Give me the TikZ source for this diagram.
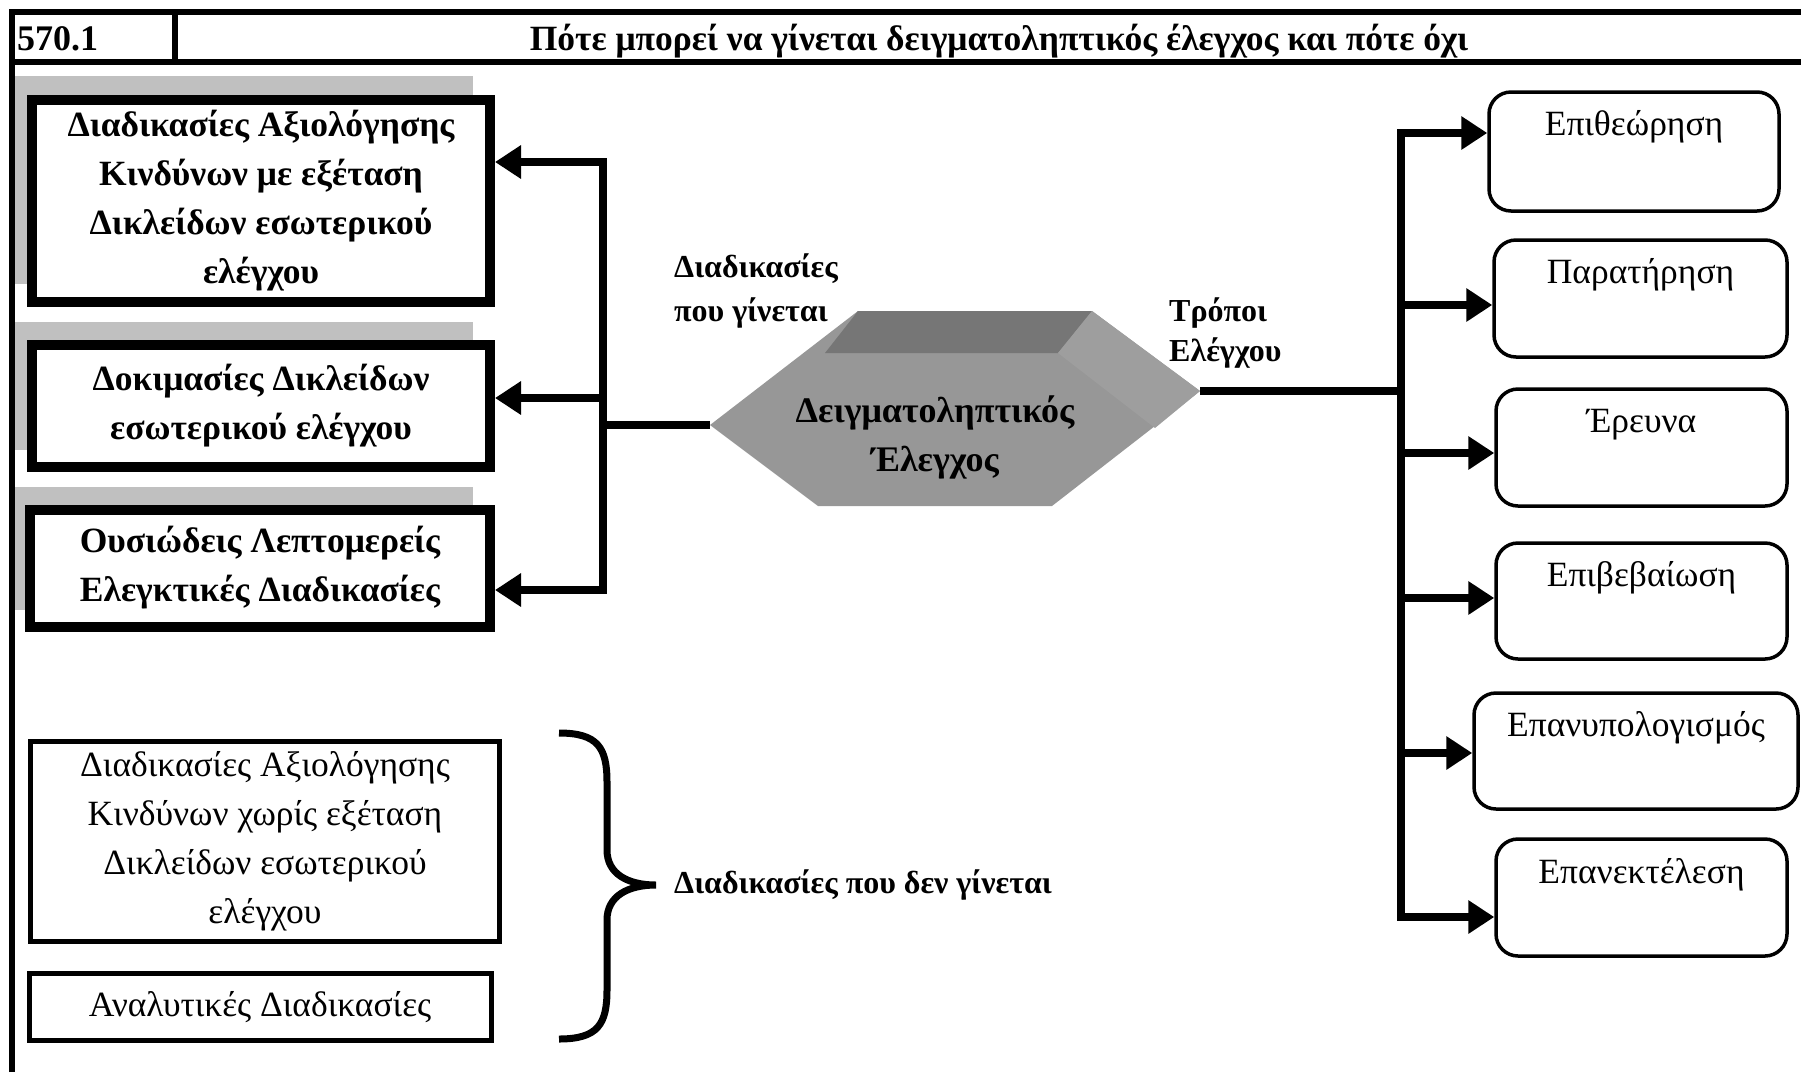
\documentclass[tikz,border=0pt]{standalone}
\usepackage{fontspec}
\setmainfont{Liberation Serif}
\usetikzlibrary{arrows.meta,calc}
\definecolor{shadowgray}{RGB}{192,192,192}
\definecolor{hexfront}{RGB}{151,151,151}
\definecolor{hextop}{RGB}{118,118,118}
\definecolor{hexside}{RGB}{158,158,158}
\begin{document}
\begin{tikzpicture}[x=1pt,y=-1pt,
  txt/.style={font=\fontsize{35.5}{49}\selectfont, inner sep=0pt},
  btxt/.style={font=\fontsize{35.5}{49}\selectfont\bfseries, inner sep=0pt},
  lbl/.style={font=\fontsize{32}{44}\selectfont\bfseries, inner sep=0pt},
  lbox/.style={draw, line width=10pt, fill=white, align=center, inner sep=0pt, font=\fontsize{35.5}{49}\selectfont\bfseries},
  bbox/.style={draw, line width=5pt, fill=white, align=center, inner sep=0pt, font=\fontsize{35.5}{49}\selectfont},
  rbox/.style={draw, line width=3.5pt, rounded corners=22pt, fill=white, inner sep=0pt},
  frameline/.style={line width=6pt},
  busline/.style={line width=8pt, line cap=rect},
  conn/.style={line width=8pt},
  arr/.style={line width=8pt, -{Triangle[length=26pt,width=32pt]}},
]
\useasboundingbox (0,0) rectangle (1801,1072);

% frame and header
\draw[frameline] (12,1072) -- (12,12) -- (1801,12);
\draw[frameline] (9,62) -- (1801,62);
\draw[frameline] (175,12) -- (175,62);
\node[btxt, anchor=base west, font=\fontsize{36}{49}\selectfont\bfseries] (num) at (17,50) {570.1};
\node[btxt, anchor=base] (title) at (999,50) {Πότε μπορεί να γίνεται δειγματοληπτικός έλεγχος και πότε όχι};

% shadows of the bold boxes
\fill[shadowgray] (15,76) rectangle (473,284);
\fill[shadowgray] (15,322) rectangle (473,450);
\fill[shadowgray] (15,487) rectangle (473,610);

% left bold boxes
\node[lbox, minimum width=458pt, minimum height=202pt] (L1) at (261,201)
  {Διαδικασίες Αξιολόγησης\\Κινδύνων με εξέταση\\Δικλείδων εσωτερικού\\ελέγχου};
\node[lbox, minimum width=458pt, minimum height=122pt] (L2) at (261,406)
  {Δοκιμασίες Δικλείδων\\εσωτερικού ελέγχου};
\node[lbox, minimum width=460pt, minimum height=117pt] (L3) at (260,568)
  {Ουσιώδεις Λεπτομερείς\\Ελεγκτικές Διαδικασίες};

% left bus
\coordinate (lb1) at (603,162);
\coordinate (lb2) at (603,398);
\coordinate (lb3) at (603,590);
\coordinate (lbh) at (603,425);
\draw[busline] (lb1) -- (lb3);
\draw[arr] (lb1) -- (lb1 -| L1.east);
\draw[arr] (lb2) -- (lb2 -| L2.east);
\draw[arr] (lb3) -- (lb3 -| L3.east);

% hexagon
\coordinate (hexL) at (710,425);
\coordinate (hexTL) at (858,311);
\coordinate (hexTR) at (1092,311);
\coordinate (hexR) at (1200,391);
\coordinate (hexBR) at (1052,506);
\coordinate (hexBL) at (818,506);
\coordinate (hexIL) at (825,353);
\coordinate (hexIR) at (1058,353);
\coordinate (hexRF) at (1155,428);
\fill[hexfront] (hexL) -- (hexTL) -- (hexTR) -- (hexR) -- (hexBR) -- (hexBL) -- cycle;
\fill[hextop] (hexTL) -- (hexTR) -- (hexIR) -- (hexIL) -- cycle;
\fill[hexside] (hexTR) -- (hexR) -- (hexRF) -- (hexIR) -- cycle;
\node[btxt, align=center, font=\fontsize{36}{49}\selectfont\bfseries] (hex) at (935,437) {Δειγματοληπτικός\\Έλεγχος};
\draw[conn] (lbh) -- (hexL);

\node[lbl, align=left, anchor=west] (done) at (674,291) {Διαδικασίες\\που γίνεται};
\node[lbl, align=left, anchor=west, font=\fontsize{32}{40}\selectfont\bfseries] (ways) at (1169,333) {Τρόποι\\Ελέγχου};

% right bus and boxes
\coordinate (rbh) at (1401,391);
\coordinate (rb1) at (1401,133);
\coordinate (rb2) at (1401,305);
\coordinate (rb3) at (1401,453);
\coordinate (rb4) at (1401,598);
\coordinate (rb5) at (1401,753);
\coordinate (rb6) at (1401,917);
\draw[conn] (hexR) -- (rbh);
\draw[busline] (rb1) -- (rb6);

\node[rbox, minimum width=290pt, minimum height=119pt] (R1) at (1634,151.5) {};
\node[rbox, minimum width=293pt, minimum height=117pt] (R2) at (1640.5,298.5) {};
\node[rbox, minimum width=291pt, minimum height=117pt] (R3) at (1641.5,447.5) {};
\node[rbox, minimum width=291pt, minimum height=116pt] (R4) at (1641.5,601) {};
\node[rbox, minimum width=324pt, minimum height=116pt] (R5) at (1636,751) {};
\node[rbox, minimum width=291pt, minimum height=117pt] (R6) at (1641.5,897.5) {};

\node[txt] (t1) at ($(R1.north)+(0,37)$) {Επιθεώρηση};
\node[txt] (t2) at ($(R2.north)+(0,37)$) {Παρατήρηση};
\node[txt] (t3) at ($(R3.north)+(0,37)$) {Έρευνα};
\node[txt] (t4) at ($(R4.north)+(0,37)$) {Επιβεβαίωση};
\node[txt] (t5) at ($(R5.north)+(0,37)$) {Επανυπολογισμός};
\node[txt] (t6) at ($(R6.north)+(0,37)$) {Επανεκτέλεση};

\draw[arr] (rb1) -- (rb1 -| R1.west);
\draw[arr] (rb2) -- (rb2 -| R2.west);
\draw[arr] (rb3) -- (rb3 -| R3.west);
\draw[arr] (rb4) -- (rb4 -| R4.west);
\draw[arr] (rb5) -- (rb5 -| R5.west);
\draw[arr] (rb6) -- (rb6 -| R6.west);

% bottom boxes and brace
\node[bbox, minimum width=469pt, minimum height=200pt] (B1) at (265,841.5)
  {Διαδικασίες Αξιολόγησης\\Κινδύνων χωρίς εξέταση\\Δικλείδων εσωτερικού\\ελέγχου};
\node[bbox, minimum width=462pt, minimum height=67pt] (B2) at (260,1007)
  {Αναλυτικές Διαδικασίες};
\coordinate (brtop) at (559,733);
\coordinate (brbot) at (559,1039);
\coordinate (brtip) at (656,885);
\draw[line width=7pt] (brtop) .. controls (598,733) and (607,748) .. (607,782)
  -- (607,850) .. controls (607,874) and (628,885) .. (brtip)
  .. controls (628,885) and (607,896) .. (607,920)
  -- (607,990) .. controls (607,1024) and (598,1039) .. (brbot);
\node[lbl, anchor=west] (notdone) at (674,885) {Διαδικασίες που δεν γίνεται};
\end{tikzpicture}
\end{document}
